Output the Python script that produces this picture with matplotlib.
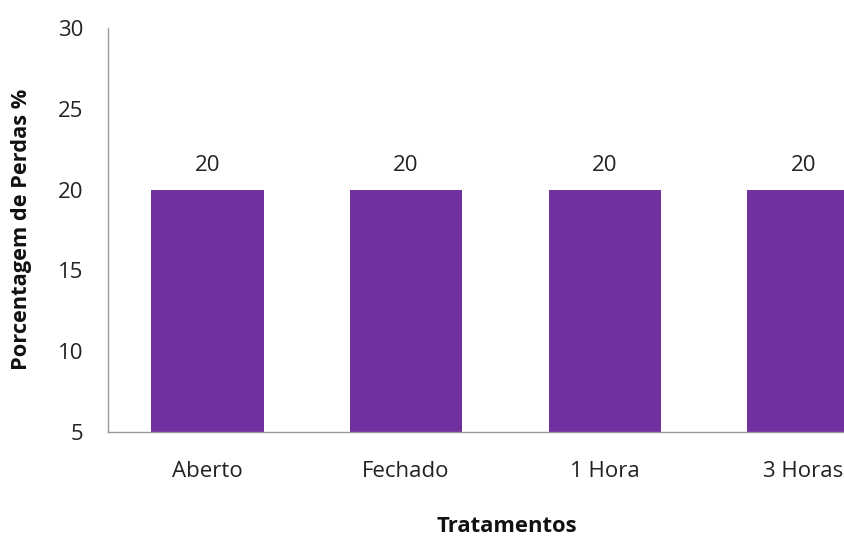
import matplotlib
matplotlib.use("Agg")
import matplotlib.pyplot as plt

plt.rcParams['font.family'] = ['Open Sans', 'DejaVu Sans']

categories = ["Aberto", "Fechado", "1 Hora", "3 Horas"]
perdas = [20, 20, 20, 20]
y_ticks = [5, 10, 15, 20, 25, 30]

fig = plt.figure(figsize=(8.45, 5.36), dpi=100)
# Plot area runs past the right edge of the canvas
ax = fig.add_axes([108 / 845, (536 - 432) / 536, 795 / 845, (432 - 28) / 536])

x = list(range(len(categories)))
ax.bar(x, perdas, width=0.567, bottom=0, color="#7030A0", zorder=2)

ax.set_xlim(-0.5, len(categories) - 0.5)
ax.set_ylim(5, 30)
ax.set_yticks(y_ticks)
ax.set_xticks(x)
ax.set_xticklabels(categories)

for xi, v in zip(x, perdas):
    ax.annotate(f"{v}", xy=(xi, v), xytext=(0, 10), textcoords="offset points",
                ha="center", va="bottom", fontsize=16, color="#222222")

for side in ("top", "right"):
    ax.spines[side].set_visible(False)
for side in ("left", "bottom"):
    ax.spines[side].set_color("#999999")
    ax.spines[side].set_linewidth(1.0)

ax.tick_params(axis="both", length=0, labelsize=16, colors="#222222")
ax.tick_params(axis="y", pad=18)
ax.tick_params(axis="x", pad=21)

ax.set_ylabel("Porcentagem de Perdas %", fontsize=15.7, fontweight="bold", color="#111111")
ax.yaxis.set_label_coords(-86 / 795, (432 - 229) / 404)
ax.set_xlabel("Tratamentos", fontsize=15.8, fontweight="bold", color="#111111")
ax.xaxis.set_label_coords(399 / 795, -95 / 404)
ax.xaxis.label.set_va("center")
ax.yaxis.label.set_va("center")

fig.savefig("out.png", dpi=100)
